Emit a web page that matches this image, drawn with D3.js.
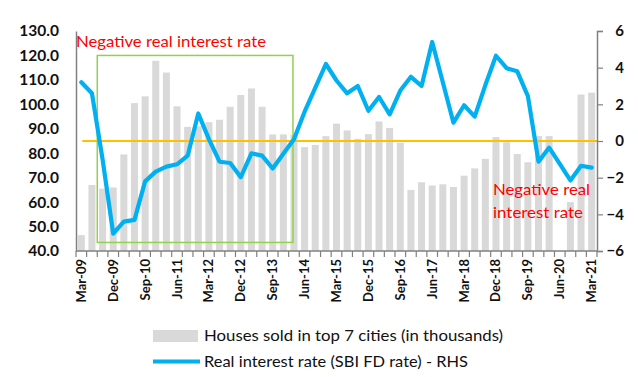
<!DOCTYPE html>
<html><head><meta charset="utf-8">
<script src="https://cdn.jsdelivr.net/npm/d3@7"></script>
<style>
html,body{margin:0;padding:0;background:#fff;}
svg{display:block;}
text{font-family:Lato,"Open Sans",sans-serif;}
</style></head>
<body>
<svg id="chart" width="638" height="377"></svg>
<script>
const quarters = ["Mar-09","Jun-09","Sep-09","Dec-09","Mar-10","Jun-10","Sep-10","Dec-10","Mar-11","Jun-11","Sep-11","Dec-11","Mar-12","Jun-12","Sep-12","Dec-12","Mar-13","Jun-13","Sep-13","Dec-13","Mar-14","Jun-14","Sep-14","Dec-14","Mar-15","Jun-15","Sep-15","Dec-15","Mar-16","Jun-16","Sep-16","Dec-16","Mar-17","Jun-17","Sep-17","Dec-17","Mar-18","Jun-18","Sep-18","Dec-18","Mar-19","Jun-19","Sep-19","Dec-19","Mar-20","Jun-20","Sep-20","Dec-20","Mar-21"];
const housesSold = [46.5,67,65.5,66,79.5,100.5,103.3,117.8,113,99.2,90.8,91,92.7,93.7,99,103.8,106.5,99,87.7,87.7,87.5,82.5,83.4,87,92.1,89.3,85.9,87.8,93,90.3,84.3,65,68.1,66.8,67.3,66.2,70.8,73.8,77.7,86.6,84.5,79.7,76.3,87,87,12,60,104,104.8];
const realRate = [3.2,2.6,-1.0,-5.05,-4.4,-4.3,-2.2,-1.67,-1.4,-1.27,-0.8,1.5,0.1,-1.13,-1.2,-1.97,-0.67,-0.8,-1.5,-0.7,0.1,1.6,2.9,4.2,3.3,2.6,3.0,1.65,2.4,1.45,2.75,3.5,3.0,5.4,3.2,1.0,1.95,1.33,3.05,4.65,3.97,3.8,2.45,-1.13,-0.36,-1.25,-2.15,-1.35,-1.45];
const leftTicks = [40,50,60,70,80,90,100,110,120,130];
const rightTicks = [-6,-4,-2,0,2,4,6];
const xTickLabels = ["Mar-09","Dec-09","Sep-10","Jun-11","Mar-12","Dec-12","Sep-13","Jun-14","Mar-15","Dec-15","Sep-16","Jun-17","Mar-18","Dec-18","Sep-19","Jun-20","Mar-21"];
const legendLabels = ["Houses sold in top 7 cities (in thousands)","Real interest rate (SBI FD rate) - RHS"];
const annotationTop = "Negative real interest rate";
const annotationRight = ["Negative real","interest rate"];
// shaded period (categories) and range (left-axis values) of the green box
const boxRange = {from:"Sep-09", to:"Mar-14", top:120, bottom:43.5};

const svg = d3.select("#chart");
const L = 76, R = 597, T = 31, B = 251;

const x = d3.scaleBand().domain(quarters).range([L, R]).paddingInner(0.34).paddingOuter(0.17);
const yL = d3.scaleLinear().domain([40,130]).range([B, T]).clamp(true);
const yR = d3.scaleLinear().domain([-6,6]).range([B, T]);
const step = x.step();
const gap = (step - x.bandwidth())/2;
const cx = d => x(d) + x.bandwidth()/2;

// bars
svg.append("g").selectAll("rect").data(quarters).join("rect")
  .attr("x", d => x(d))
  .attr("y", (d,i) => yL(housesSold[i]))
  .attr("width", x.bandwidth())
  .attr("height", (d,i) => B - yL(housesSold[i]))
  .attr("fill", "#D9D9D9");

// zero line (RHS)
svg.append("line")
  .attr("x1", cx(quarters[0]) + 1).attr("x2", R)
  .attr("y1", yR(0)).attr("y2", yR(0))
  .attr("stroke", "#FFC000").attr("stroke-width", 2);

// green box
const bx0 = x(boxRange.from) - gap;
const bx1 = cx(boxRange.to) - 1;
svg.append("rect")
  .attr("x", bx0).attr("y", yL(boxRange.top))
  .attr("width", bx1 - bx0).attr("height", yL(boxRange.bottom) - yL(boxRange.top))
  .attr("fill", "none").attr("stroke", "#92D050").attr("stroke-width", 1.5);

// line
const line = d3.line().x((d,i) => cx(quarters[i])).y(d => yR(d));
svg.append("path").datum(realRate)
  .attr("d", line).attr("fill", "none")
  .attr("stroke", "#00B0F0").attr("stroke-width", 4.2)
  .attr("stroke-linejoin", "round").attr("stroke-linecap", "round");

// left axis
const gL = svg.append("g").attr("transform", `translate(${L},0)`)
  .call(d3.axisLeft(yL).tickValues(leftTicks).tickFormat(d3.format(".1f")).tickSize(0).tickPadding(17));
gL.select(".domain").attr("stroke", "#808080").attr("stroke-width", 1.5);
gL.selectAll("text").attr("font-size", 15.5).attr("font-weight", 700).attr("fill", "#111").attr("font-family", "Lato");

// right axis
const gR = svg.append("g").attr("transform", `translate(${R},0)`)
  .call(d3.axisRight(yR).tickValues(rightTicks).tickFormat(d3.format("d")).tickSize(6).tickSizeOuter(6).tickPadding(4));
gR.select(".domain").attr("stroke", "#808080").attr("stroke-width", 1.5);
gR.selectAll(".tick line").attr("stroke", "#808080").attr("stroke-width", 1.2);
gR.selectAll("text").attr("font-size", 15).attr("font-weight", 700).attr("fill", "#111")
  .attr("text-anchor", "end").attr("x", 27).attr("font-family", "Lato");

// bottom axis with boundary ticks
const gB = svg.append("g");
gB.append("line").attr("x1", L).attr("x2", R).attr("y1", B).attr("y2", B)
  .attr("stroke", "#808080").attr("stroke-width", 1.5);
gB.selectAll("line.tk").data(quarters.concat(["end"])).join("line").attr("class","tk")
  .attr("x1", (d,i) => i < quarters.length ? x(d) - gap : R)
  .attr("x2", (d,i) => i < quarters.length ? x(d) - gap : R)
  .attr("y1", B).attr("y2", B + 6)
  .attr("stroke", "#808080").attr("stroke-width", 1.2);
gB.selectAll("text").data(xTickLabels).join("text")
  .attr("transform", d => `translate(${cx(d) + 4.5},${B + 8}) rotate(-90)`)
  .attr("text-anchor", "end")
  .attr("font-size", 13).attr("font-weight", 700).attr("fill", "#111")
  .text(d => d);

// annotations
svg.append("text").attr("x", L).attr("y", 47)
  .attr("font-size", 16).attr("fill", "#FF0000")
  .attr("textLength", 190).attr("lengthAdjust", "spacingAndGlyphs").text(annotationTop);
svg.append("g").selectAll("text").data(annotationRight).join("text")
  .attr("x", 493).attr("y", (d,i) => 195 + i*23)
  .attr("font-size", 16).attr("fill", "#FF0000")
  .attr("textLength", (d,i) => i === 0 ? 97 : 90).attr("lengthAdjust", "spacingAndGlyphs")
  .text(d => d);

// legend
const lg = svg.append("g");
lg.append("rect").attr("x", 153).attr("y", 330).attr("width", 45).attr("height", 12).attr("fill", "#D9D9D9");
lg.append("line").attr("x1", 153).attr("x2", 200).attr("y1", 361.5).attr("y2", 361.5)
  .attr("stroke", "#00B0F0").attr("stroke-width", 4);
lg.selectAll("text").data(legendLabels).join("text")
  .attr("x", 204).attr("y", (d,i) => 341 + i*25.5)
  .attr("font-size", 15).attr("fill", "#111")
  .attr("textLength", (d,i) => i === 0 ? 299 : 264).attr("lengthAdjust", "spacingAndGlyphs")
  .text(d => d);
</script>
</body></html>
